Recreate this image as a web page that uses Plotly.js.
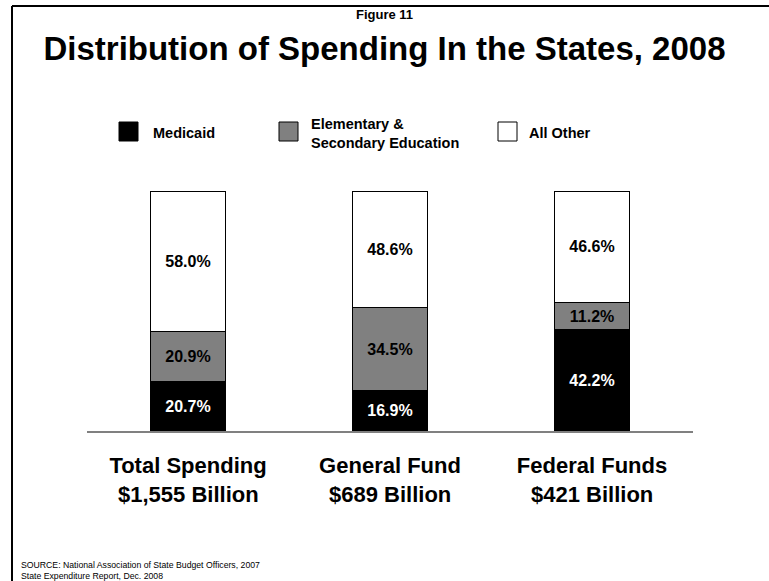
<!DOCTYPE html>
<html>
<head>
<meta charset="utf-8">
<script src="https://cdn.plot.ly/plotly-3.0.1.min.js"></script>
<style>
html,body{margin:0;padding:0;background:#fff;}
#chart{width:769px;height:581px;}
</style>
</head>
<body>
<div id="chart"></div>
<script>
// ---- data ----
var categories = ['Total Spending', 'General Fund', 'Federal Funds'];
var amounts = ['$1,555 Billion', '$689 Billion', '$421 Billion'];
var medicaid = [20.7, 16.9, 42.2];
var education = [20.9, 34.5, 11.2];
var allOther = [58.0, 48.6, 46.6];
var seriesNames = ['Medicaid', 'Elementary &<br>Secondary Education', 'All Other'];
var seriesColors = ['#000000', '#808080', '#ffffff'];
var textColors = ['#ffffff', '#000000', '#000000'];

// ---- layout geometry (pixels) ----
var W = 769, H = 581;
var L = 87, R = 76, T = 191, B = 150;
var PW = W - L - R, PH = H - T - B;
function px(x) { return (x - L) / PW; }
function py(y) { return (H - B - y) / PH; }

var FONT = '"Liberation Sans", Arial, Helvetica, sans-serif';

var seriesValues = [medicaid, education, allOther];
var traces = seriesValues.map(function (vals, i) {
  return {
    type: 'bar',
    x: categories,
    y: vals,
    name: seriesNames[i],
    width: 0.37,
    marker: { color: seriesColors[i], line: { color: '#000000', width: 1 } },
    text: vals.map(function (v) { return v.toFixed(1) + '%'; }),
    textposition: 'inside',
    insidetextanchor: 'middle',
    textangle: 0,
    constraintext: 'none',
    insidetextfont: { family: FONT, size: 16, color: textColors[i], weight: 'bold' },
    hoverinfo: 'skip',
    showlegend: false
  };
});

var annotations = [];
// Figure label
annotations.push({ xref: 'paper', yref: 'paper', x: px(384), y: py(14), text: '<b>Figure 11</b>',
  showarrow: false, xanchor: 'center', yanchor: 'middle', font: { family: FONT, size: 13, color: '#000' } });
// Amount labels under categories
categories.forEach(function (c, i) {
  annotations.push({ xref: 'x', yref: 'paper', x: c, y: py(494), text: '<b>' + amounts[i] + '</b>',
    showarrow: false, xanchor: 'center', yanchor: 'middle', font: { family: FONT, size: 22, color: '#000' } });
});
// Legend (manual)
var legendSwatchX = [119, 279, 498];
var legendTextX = [151, 309, 527];
var shapes = [];
seriesNames.forEach(function (n, i) {
  shapes.push({ type: 'rect', xref: 'paper', yref: 'paper',
    x0: px(legendSwatchX[i]), x1: px(legendSwatchX[i] + 19), y0: py(141), y1: py(122),
    fillcolor: seriesColors[i], line: { color: '#000', width: 1 } });
  annotations.push({ xref: 'paper', yref: 'paper', x: px(legendTextX[i]), y: py(133),
    text: '<b>' + n + '</b>', showarrow: false, xanchor: 'left', yanchor: 'middle', align: 'left',
    font: { family: FONT, size: 14.5, color: '#000' } });
});
// Source
annotations.push({ xref: 'paper', yref: 'paper', x: px(19), y: py(570),
  text: 'SOURCE: National Association of State Budget Officers, 2007<br>State Expenditure Report, Dec. 2008',
  showarrow: false, xanchor: 'left', yanchor: 'middle', align: 'left',
  font: { family: FONT, size: 8.7, color: '#000' } });

// Frame (top and left borders)
shapes.push({ type: 'line', xref: 'paper', yref: 'paper', x0: px(12), x1: px(W + 5), y0: py(6), y1: py(6),
  line: { color: '#000', width: 2 } });
shapes.push({ type: 'line', xref: 'paper', yref: 'paper', x0: px(12), x1: px(12), y0: py(6), y1: py(H + 5),
  line: { color: '#000', width: 2 } });

var layout = {
  width: W, height: H,
  margin: { l: L, r: R, t: T, b: B, pad: 0 },
  paper_bgcolor: '#fff', plot_bgcolor: '#fff',
  barmode: 'stack',
  title: { text: '<b>Distribution of Spending In the States, 2008</b>', x: 0.5, xref: 'container',
    y: 1 - 48 / H, yref: 'container', yanchor: 'middle', xanchor: 'center',
    font: { family: FONT, size: 33, color: '#000' } },
  xaxis: { type: 'category', range: [-0.5, 2.5], showline: true, linecolor: '#808080', linewidth: 2,
    showgrid: false, zeroline: false, ticks: '', ticklabelstandoff: 14,
    tickfont: { family: FONT, size: 22, color: '#000', weight: 'bold' }, fixedrange: true },
  yaxis: { range: [0, 100], visible: false, fixedrange: true },
  annotations: annotations,
  shapes: shapes,
  showlegend: false
};

Plotly.newPlot('chart', traces, layout, { displayModeBar: false, staticPlot: true });
</script>
</body>
</html>
